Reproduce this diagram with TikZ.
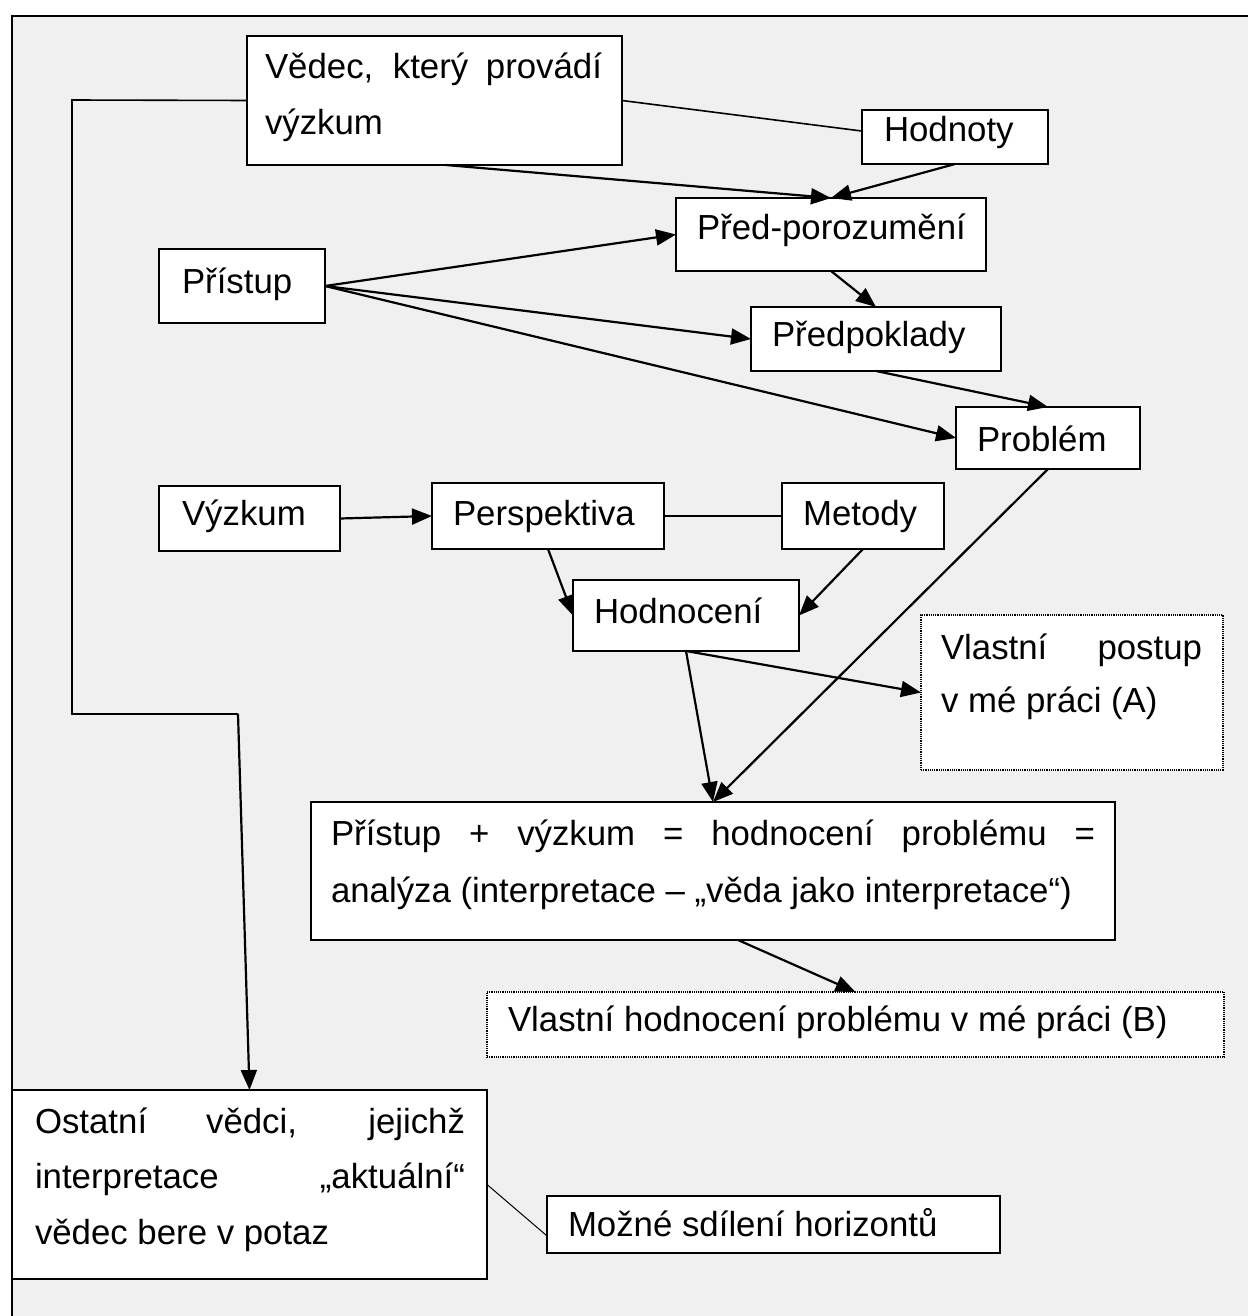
\documentclass[tikz,border=0pt]{standalone}
\usepackage{fontspec}
\setmainfont{Liberation Sans}
\usetikzlibrary{arrows.meta,calc}

% Box given by its top-left and bottom-right corners (in px units of the picture)
\newcommand\boxnode[6][]{%
  \node[box,#1,anchor=north west,
        minimum width={(#5-#3)*0.5pt},
        minimum height={(#6-#4)*0.5pt}] (#2) at (#3,#4) {};}

\tikzset{
  box/.style={draw, fill=white, line width=1pt, inner sep=0pt, outer sep=0pt},
  dotbox/.style={line width=0.8pt, dash pattern=on 0.6pt off 0.5pt},
  txt/.style={anchor=base west, inner sep=0pt, outer sep=0pt,
              font=\fontsize{17.4pt}{27.5pt}\selectfont},
  arr/.style={line width=1.1pt, -{Triangle[length=10pt,width=8pt]}},
  link/.style={line width=0.8pt},
  thin link/.style={line width=0.5pt},
}

\begin{document}
\begin{tikzpicture}[x=0.5pt,y=-0.5pt]
\useasboundingbox (0,0) rectangle (1247,1316);
\fill[white] (0,0) rectangle (1247,1316);
% page frame with grey canvas
\draw[line width=1pt, fill={rgb,255:red,240;green,240;blue,240}] (12,16) rectangle (1280,1350);

% boxes
\boxnode{ved}{247}{36}{622}{165}
\boxnode{hod}{862}{110}{1048}{164}
\boxnode{pp}{676}{198}{986}{271}
\boxnode{pri}{159}{249}{325}{323}
\boxnode{pdk}{751}{307}{1001}{371}
\boxnode{prb}{956}{407}{1140}{469}
\boxnode{vyz}{159}{486}{340}{551}
\boxnode{per}{432}{483}{664}{549}
\boxnode{met}{782}{483}{944}{549}
\boxnode{hdn}{573}{580}{799}{651}
\boxnode[dotbox]{vpa}{921}{615}{1223}{770}
\boxnode{big}{311}{802}{1115}{940}
\boxnode[dotbox]{vhb}{487}{992}{1224}{1057}
\boxnode{ost}{12}{1090}{487}{1279}
\boxnode{moz}{547}{1196}{1000}{1253}

% texts
\node[txt] (ved-t1) at (265,79) {\makebox[168.5pt][s]{Vědec, který provádí}};
\node[txt] (ved-t2) at (265,135) {výzkum};
\node[txt] (hod-t) at (884,142) {Hodnoty};
\node[txt] (pp-t) at (697,240) {Před-porozumění};
\node[txt] (pri-t) at (182,293) {Přístup};
\node[txt] (pdk-t) at (772,346) {Předpoklady};
\node[txt] (prb-t) at (977,451) {Problém};
\node[txt] (vyz-t) at (182,525) {Výzkum};
\node[txt] (per-t) at (453,525) {Perspektiva};
\node[txt] (met-t) at (803,525) {Metody};
\node[txt] (hdn-t) at (594,623) {Hodnocení};
\node[txt] (vpa-t1) at (941,659) {\makebox[130.5pt][s]{Vlastní postup}};
\node[txt] (vpa-t2) at (941,712) {v mé práci (A)};
\node[txt] (big-t1) at (331,845) {\makebox[382pt][s]{Přístup + výzkum = hodnocení problému =}};
\node[txt] (big-t2) at (331,902) {analýza (interpretace – „věda jako interpretace“)};
\node[txt] (vhb-t) at (508,1031) {Vlastní hodnocení problému v mé práci (B)};
\node[txt] (ost-t1) at (35,1133) {\makebox[215pt][s]{Ostatní vědci, jejichž}};
\node[txt] (ost-t2) at (35,1188) {\makebox[215pt][s]{interpretace „aktuální“}};
\node[txt] (ost-t3) at (35,1244) {vědec bere v potaz};
\node[txt] (moz-t) at (568,1236) {Možné sdílení horizontů};

% connectors
\draw[link] (ved.east) -- ($(hod.north west)!0.39!(hod.south west)$);
\draw[arr] ($(ved.south west)!0.53!(ved.south east)$) -- (pp.north);
\draw[arr] (hod.south) -- (pp.north);
\draw[arr] (pri.east) -- (pp.west);
\draw[arr] (pri.east) -- (pdk.west);
\draw[arr] (pri.east) -- (prb.west);
\draw[arr] (pp.south) -- (pdk.north);
\draw[arr] (pdk.south) -- (prb.north);
\draw[arr] (vyz.east) -- (per.west);
\draw[link] (per.east) -- (met.east -| met.west);
\draw[arr] (per.south) -- (hdn.west);
\draw[arr] (met.south) -- (hdn.east);
\draw[arr] (hdn.south) -- (vpa.west);
\draw[arr] (hdn.south) -- (big.north);
\draw[arr] (prb.south) -- (big.north);
\draw[arr] ($(big.south)+(25,0)$) -- (vhb.north);

% link from the researcher down to the other researchers
\coordinate (lc1) at (72,100);
\coordinate (lc2) at (72,714);
\coordinate (lc3) at (238,714);
\draw[link] (ved.west) -- (lc1) -- (lc2) -- (lc3);
\draw[arr] (lc3) -- (ost.north);

\draw[thin link] (ost.east) -- ($(moz.north west)!0.7!(moz.south west)$);
\end{tikzpicture}
\end{document}
